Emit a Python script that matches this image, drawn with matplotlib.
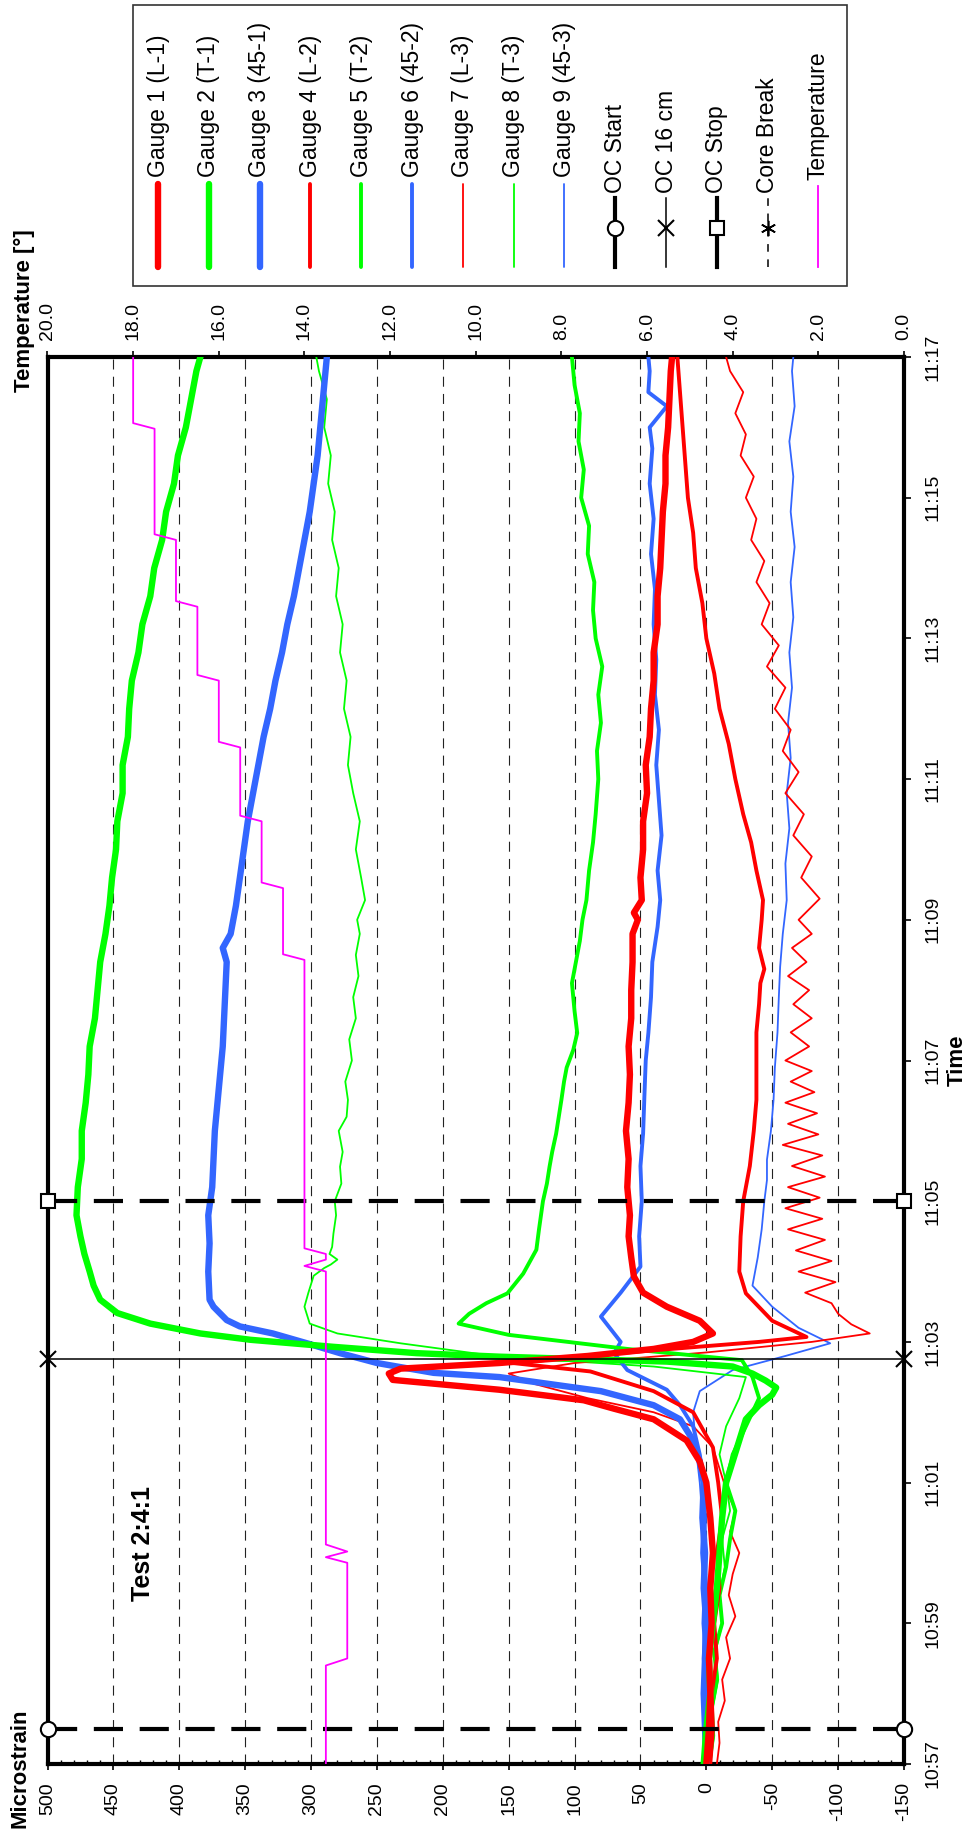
import matplotlib
matplotlib.use("Agg")
import matplotlib.pyplot as plt
from matplotlib.lines import Line2D
from matplotlib.patches import Rectangle
from matplotlib.ticker import MultipleLocator

plt.rcParams['font.family'] = ['Liberation Sans', 'DejaVu Sans']

# ---------------------------------------------------------------- data
# time is in minutes after 10:57
time_ticks = [0, 2, 4, 6, 8, 10, 12, 14, 16, 18, 20]
time_labels = ['10:57', '10:59', '11:01', '11:03', '11:05', '11:07',
               '11:09', '11:11', '11:13', '11:15', '11:17']
strain_ticks = [-150, -100, -50, 0, 50, 100, 150, 200, 250, 300, 350, 400, 450, 500]
temp_ticks = [0, 2, 4, 6, 8, 10, 12, 14, 16, 18, 20]

oc_start_t = 0.5
oc_16cm_t = 5.75
oc_stop_t = 8.0

g1_t = [0, 0.5, 1, 1.5, 2, 2.5, 3, 3.5, 4, 4.3, 4.6, 4.9, 5.05, 5.17, 5.32, 5.46, 5.55, 5.62,
        5.7, 5.8, 5.9, 6.0, 6.12, 6.3, 6.5, 6.7, 6.93, 7.2, 7.5, 7.8, 8.2, 8.6, 9.0, 9.4, 9.8,
        10.2, 10.6, 11.0, 11.4, 11.8, 12.0, 12.1, 12.28, 12.6, 13.0, 13.4, 13.8, 14.2, 14.6,
        15.0, 15.4, 15.8, 16.2, 16.6, 17.0, 17.4, 17.8, 18.2, 18.6, 19.0, 19.4, 19.8, 20]
g1_m = [0, -2, -3, -2, -4, -3, -5, -3, 0, 5, 15, 40, 70, 93, 157, 238, 241, 232,
        157, 90, 40, 10, -5, 5, 30, 48, 55, 57, 59, 58, 60, 59, 61, 59, 58,
        59, 57, 57, 56, 56, 52, 55, 49, 50, 48, 48, 45, 46, 43,
        42, 40, 40, 37, 37, 35, 34, 33, 31, 31, 29, 28, 27, 26]

g2_t = [0, 0.5, 1, 1.5, 2, 2.5, 3, 3.5, 4, 4.3, 4.6, 4.9, 5.1, 5.25, 5.35, 5.45, 5.55, 5.65,
        5.72, 5.79, 5.84, 5.93, 6.03, 6.12, 6.26, 6.41, 6.6, 6.8, 7.0, 7.25, 7.5, 7.8, 8.2,
        8.6, 9.0, 9.4, 9.8, 10.2, 10.6, 11.0, 11.4, 11.8, 12.2, 12.6, 13.0, 13.4, 13.8, 14.2,
        14.6, 15.0, 15.4, 15.8, 16.2, 16.6, 17.0, 17.4, 17.8, 18.2, 18.6, 19.0, 19.4, 19.8, 20]
g2_m = [2, 0, -3, -2, -5, -8, -10, -12, -15, -20, -25, -30, -40, -50, -53, -45, -35, -20,
        30, 157, 220, 283, 346, 384, 422, 447, 460, 465, 468, 472, 475, 478, 477,
        474, 474, 471, 469, 468, 464, 462, 460, 456, 453, 451, 448, 447, 443, 443,
        439, 438, 436, 431, 428, 422, 419, 413, 410, 404, 401, 395, 391, 387, 384]

g3_t = [0, 0.5, 1, 1.5, 2, 2.5, 3, 3.5, 4, 4.3, 4.6, 4.9, 5.1, 5.3, 5.5, 5.56, 5.7, 5.84,
        5.98, 6.12, 6.22, 6.31, 6.5, 6.6, 7.0, 7.4, 7.8, 8.2, 8.6, 9.0, 9.4, 9.8, 10.2, 10.6,
        11.0, 11.4, 11.6, 11.8, 12.2, 12.6, 13.0, 13.4, 13.8, 14.2, 14.6, 15.0, 15.4, 15.8,
        16.2, 16.6, 17.0, 17.4, 17.8, 18.2, 18.6, 19.0, 19.4, 19.8, 20]
g3_m = [0, 1, 2, 1, 0, 2, 1, 3, 2, 5, 10, 20, 40, 80, 157, 207, 250, 278,
        303, 329, 354, 364, 374, 377, 378, 377, 378, 375, 374, 373, 371, 369, 367, 366,
        365, 364, 367, 361, 357, 354, 351, 348, 344, 340, 336, 331, 327, 322,
        318, 313, 309, 305, 301, 298, 295, 293, 291, 289, 288]

g4_t = [0, 0.5, 1, 1.5, 2, 2.5, 3, 3.5, 4, 4.5, 5.0, 5.3, 5.58, 5.7, 5.85, 6.0, 6.07, 6.3,
        6.69, 7.0, 7.5, 8.0, 8.5, 9.0, 9.44, 10.0, 10.4, 10.8, 11.1, 11.3, 11.6, 12.0, 12.28,
        12.7, 13.1, 13.5, 14.0, 14.5, 15.0, 15.5, 16.0, 16.5, 17.0, 17.5, 18.0, 18.5, 19.0,
        19.5, 20]
g4_m = [-3, -5, -4, -8, -6, -10, -8, -12, -9, -5, 10, 40, 88, 147, 60, -40, -76, -50,
        -30, -25, -26, -28, -33, -36, -38, -38, -38, -40, -41, -44, -40, -42, -43,
        -38, -34, -28, -22, -17, -10, -6, 0, 3, 8, 10, 14, 16, 18,
        20, 22]

g5_t = [0, 0.4, 0.8, 1.2, 1.6, 2.0, 2.4, 2.8, 3.2, 3.6, 4.0, 4.4, 4.8, 5.2, 5.5, 5.74, 5.9,
        6.1, 6.26, 6.4, 6.55, 6.69, 6.97, 7.31, 7.6, 8.0, 8.25, 8.49, 8.7, 8.96, 9.2, 9.44,
        9.7, 9.9, 10.15, 10.39, 10.7, 11.1, 11.4, 11.7, 12.0, 12.28, 12.7, 13.1, 13.5, 14.0,
        14.4, 14.8, 15.2, 15.6, 16.0, 16.4, 16.8, 17.2, 17.6, 18.0, 18.4, 18.8, 19.2, 19.6, 20]
g5_m = [-2, -5, -4, -8, -6, -12, -10, -15, -18, -22, -15, -20, -30, -40, -35, -27, 60,
        150, 188, 180, 167, 151, 139, 129, 127, 124, 121, 119, 117, 114, 112, 110,
        108, 106, 101, 98, 100, 102, 99, 96, 94, 91, 89, 86, 84, 82,
        83, 80, 82, 79, 84, 86, 85, 90, 89, 95, 93, 97, 96, 100, 102]

g6_t = [0, 0.5, 1, 1.5, 2, 2.5, 3, 3.5, 4, 4.4, 4.8, 5.1, 5.32, 5.6, 5.84, 6.0, 6.36, 6.7,
        7.07, 7.5, 8.0, 8.5, 8.96, 9.5, 10.0, 10.39, 10.9, 11.4, 11.9, 12.28, 12.7, 13.2,
        13.7, 14.2, 14.7, 15.2, 15.7, 16.2, 16.7, 17.2, 17.7, 18.2, 18.7, 19.0, 19.3, 19.5,
        19.8, 20]
g6_m = [0, 1, 0, 2, 1, 0, 2, 1, 2, 5, 10, 20, 30, 60, 70, 65, 80, 65,
        50, 51, 49, 50, 48, 47, 46, 44, 42, 41, 37, 35, 37, 34, 36, 38,
        36, 39, 38, 40, 39, 42, 40, 43, 41, 43, 30, 44, 43, 44]

g7_t = [0, 0.3, 0.6, 0.9, 1.2, 1.5, 1.8, 2.1, 2.4, 2.7, 3.0, 3.3, 3.6, 3.9, 4.2, 4.5, 4.8,
        5.0, 5.2, 5.4, 5.55, 5.7, 5.85, 6.0, 6.12, 6.25, 6.4, 6.55, 6.7, 6.85, 7.0, 7.15, 7.3,
        7.45, 7.6, 7.75, 7.9, 8.05, 8.2, 8.35, 8.5, 8.65, 8.8, 8.95, 9.1, 9.25, 9.4, 9.55, 9.7,
        9.85, 10.0, 10.2, 10.4, 10.6, 10.8, 11.0, 11.2, 11.4, 11.6, 11.8, 12.0, 12.3, 12.6,
        12.9, 13.2, 13.5, 13.8, 14.1, 14.4, 14.7, 15.0, 15.3, 15.6, 15.9, 16.2, 16.5, 16.8,
        17.1, 17.4, 17.7, 18.0, 18.3, 18.6, 18.9, 19.2, 19.5, 19.8, 20]
g7_m = [-8, -10, -9, -14, -12, -18, -15, -22, -17, -20, -25, -18, -22, -15, -10, -5, 10,
        40, 90, 130, 150, 100, 0, -80, -124, -110, -100, -95, -75, -98, -70, -95, -68,
        -90, -62, -88, -60, -86, -62, -90, -65, -88, -58, -85, -62, -84, -60, -82, -64,
        -80, -60, -78, -64, -80, -66, -78, -62, -76, -65, -80, -70, -86, -72,
        -80, -66, -74, -60, -70, -58, -64, -52, -60, -46, -55, -42, -48, -38,
        -44, -34, -38, -30, -36, -26, -30, -22, -28, -18, -15]

g8_t = [0, 0.4, 0.8, 1.2, 1.6, 2.0, 2.4, 2.8, 3.2, 3.6, 4.0, 4.4, 4.8, 5.2, 5.5, 5.65, 5.79,
        5.98, 6.12, 6.26, 6.5, 6.7, 6.94, 7.05, 7.1, 7.17, 7.25, 7.35, 7.54, 7.8, 8.0, 8.25,
        8.49, 8.7, 9.0, 9.2, 9.44, 9.7, 10.0, 10.3, 10.6, 10.9, 11.2, 11.5, 11.8, 12.0, 12.28,
        12.6, 13.0, 13.4, 13.8, 14.2, 14.6, 15.0, 15.4, 15.8, 16.2, 16.6, 17.0, 17.4, 17.8,
        18.2, 18.6, 19.0, 19.4, 19.8, 20]
g8_m = [-3, -6, -5, -9, -7, -12, -10, -14, -12, -18, -15, -10, -15, -25, -30, 40, 157,
        232, 280, 301, 305, 302, 298, 290, 285, 280, 286, 284, 283, 281, 282, 277,
        278, 276, 279, 273, 272, 274, 269, 271, 266, 268, 264, 266, 263, 265, 259,
        262, 266, 263, 268, 272, 270, 275, 273, 278, 276, 281, 279, 284, 282,
        287, 285, 290, 288, 294, 296]

g9_t = [0, 0.5, 1, 1.5, 2, 2.5, 3, 3.5, 4, 4.5, 5.0, 5.3, 5.6, 5.8, 5.98, 6.2, 6.5, 6.8,
        7.2, 7.6, 8.0, 8.3, 8.59, 9.0, 9.44, 9.9, 10.4, 10.9, 11.33, 11.8, 12.28, 12.8, 13.3,
        13.8, 14.3, 14.8, 15.3, 15.8, 16.3, 16.8, 17.3, 17.8, 18.3, 18.8, 19.3, 19.8, 20]
g9_m = [-2, 0, 2, 1, 3, 2, 4, 3, 5, 8, 10, 5, -20, -60, -94, -70, -50, -35,
        -39, -42, -44, -46, -46, -49, -51, -52, -54, -55, -56, -58, -61, -60, -63,
        -61, -64, -62, -65, -63, -66, -64, -67, -64, -66, -63, -67, -65, -66]

temp_t = [0, 1.40, 1.50, 2.86, 2.94, 3.02, 3.12, 7.00, 7.08, 7.17, 7.25, 7.33, 11.43,
          11.51, 12.45, 12.53, 13.40, 13.48, 14.45, 14.53, 15.40, 15.48, 16.45, 16.53,
          17.40, 17.48, 18.98, 19.06, 20]
temp_c = [13.5, 13.5, 13.0, 13.0, 13.5, 13.0, 13.5, 13.5, 14.0, 13.5, 13.5, 14.0, 14.0,
          14.5, 14.5, 15.0, 15.0, 15.5, 15.5, 16.0, 16.0, 16.5, 16.5, 17.0,
          17.0, 17.5, 17.5, 18.0, 18.0]

legend_labels = ['Gauge 1 (L-1)', 'Gauge 2 (T-1)', 'Gauge 3 (45-1)', 'Gauge 4 (L-2)',
                 'Gauge 5 (T-2)', 'Gauge 6 (45-2)', 'Gauge 7 (L-3)', 'Gauge 8 (T-3)',
                 'Gauge 9 (45-3)', 'OC Start', 'OC 16 cm', 'OC Stop', 'Core Break',
                 'Temperature']

# ---------------------------------------------------------------- styles
RED, GREEN, BLUE, MAG = '#ff0000', '#00ff00', '#3366ff', '#ff00ff'
THICK, MED, THIN = 4.6, 2.8, 1.3

gauges = [
    (g1_t, g1_m, RED, THICK), (g2_t, g2_m, GREEN, THICK), (g3_t, g3_m, BLUE, THICK),
    (g4_t, g4_m, RED, MED), (g5_t, g5_m, GREEN, MED), (g6_t, g6_m, BLUE, MED),
    (g7_t, g7_m, RED, THIN), (g8_t, g8_m, GREEN, THIN), (g9_t, g9_m, BLUE, THIN),
]

W, H = 972, 1830
fig = plt.figure(figsize=(W / 100, H / 100), dpi=100)


def fx(px):
    return px / W


def fy(py):
    return 1 - py / H


L, R, T, B = 47.5, 904, 357, 1764
ax = fig.add_axes([fx(L), fy(B), (R - L) / W, (B - T) / H])
ax.set_xlim(500, -150)
ax.set_ylim(0, 20)

# dashed reference lines every 50 microstrain
for v in strain_ticks[1:-1]:
    ax.axvline(v, color='#222222', lw=0.8, ls=(0, (9, 6.5)), zorder=1)

for tt, mm, col, lw in gauges[::-1]:
    ax.plot(mm, tt, color=col, lw=lw, solid_joinstyle='round', zorder=3)

# overcoring events
ev_x = [500, -150]
ax.plot(ev_x, [oc_start_t] * 2, color='black', lw=3, dashes=(7, 4), zorder=4)
ax.plot(ev_x, [oc_stop_t] * 2, color='black', lw=3, dashes=(7, 4), zorder=4)
ax.plot(ev_x, [oc_16cm_t] * 2, color='black', lw=1.1, zorder=4)
ax.plot(ev_x, [oc_start_t] * 2, ls='none', marker='o', ms=11, mfc='white', mec='black',
        mew=1.5, clip_on=False, zorder=6)
ax.plot(ev_x, [oc_16cm_t] * 2, ls='none', marker='x', ms=11, mec='black', mew=1.5,
        clip_on=False, zorder=6)
ax.plot(ev_x, [oc_stop_t] * 2, ls='none', marker='s', ms=10, mfc='white', mec='black',
        mew=1.5, clip_on=False, zorder=6)

ax.set_xticks(strain_ticks)
ax.set_xticklabels([str(v) for v in strain_ticks], rotation=90)
ax.xaxis.set_minor_locator(MultipleLocator(10))
ax.tick_params(axis='x', which='major', direction='out', length=4, width=1.2, pad=9,
               labelsize=14)
ax.tick_params(axis='x', which='minor', direction='in', length=3, width=1)

ax.yaxis.tick_right()
ax.set_yticks(time_ticks)
ax.set_yticklabels(time_labels, rotation=90, va='center')
ax.tick_params(axis='y', which='major', direction='out', length=5, width=1.2, pad=10,
               labelsize=14)
for s in ax.spines.values():
    s.set_linewidth(3)

ax2 = ax.twiny()
ax2.set_xlim(20, 0)
ax2.set_ylim(0, 20)
ax2.plot(temp_c, temp_t, color=MAG, lw=1.3, zorder=3)
ax2.set_xticks(temp_ticks)
ax2.set_xticklabels(['%.1f' % v for v in temp_ticks], rotation=90)
ax2.tick_params(axis='x', direction='out', length=4, width=1.2, pad=8, labelsize=14)
for s in ax2.spines.values():
    s.set_visible(False)

# axis titles
fig.text(fx(20), fy(1828), 'Microstrain', rotation=90, ha='center', va='bottom',
         fontsize=16, fontweight='bold')
fig.text(fx(24), fy(392), 'Temperature [°]', rotation=90, ha='center', va='bottom',
         fontsize=16, fontweight='bold')
fig.text(fx(957), fy((T + B) / 2), 'Time', rotation=90, ha='center', va='center',
         fontsize=16, fontweight='bold')
fig.text(fx(143), fy(1601), 'Test 2:4:1', rotation=90, ha='center', va='bottom',
         fontsize=18, fontweight='bold')

# legend
fig.add_artist(Rectangle((fx(133), fy(286)), (847 - 133) / W, (286 - 5) / H, fill=False,
                         lw=1.2, ec='#333333', transform=fig.transFigure))
handle_styles = [(g[2], g[3]) for g in gauges]
for i, lab in enumerate(legend_labels):
    x = 158 + i * 50.8
    if i < 9:
        col, lw = handle_styles[i]
        fig.add_artist(Line2D([fx(x), fx(x)], [fy(267), fy(184)], color=col, lw=lw,
                              solid_capstyle='round', transform=fig.transFigure))
        ty = 177
    elif lab == 'Temperature':
        fig.add_artist(Line2D([fx(x), fx(x)], [fy(267), fy(186)], color=MAG, lw=1.3,
                              transform=fig.transFigure))
        ty = 180
    else:
        if lab == 'OC Start':
            kw = dict(color='black', lw=3, marker='o', ms=11, mfc='white', mec='black', mew=1.5)
        elif lab == 'OC 16 cm':
            kw = dict(color='black', lw=1.1, marker='x', ms=11, mec='black', mew=1.5)
        elif lab == 'OC Stop':
            kw = dict(color='black', lw=3, marker='s', ms=10, mfc='white', mec='black', mew=1.5)
        else:
            kw = dict(color='black', lw=1.1, ls=(0, (5, 5)), marker=(6, 2, 0), ms=11,
                      mec='black', mew=1.2)
        fig.add_artist(Line2D([fx(x), fx(x), fx(x)], [fy(267), fy(228), fy(198)],
                              markevery=[1], transform=fig.transFigure, **kw))
        ty = 193
    fig.text(fx(x), fy(ty), lab, rotation=90, ha='center', va='bottom', fontsize=16.5)

fig.savefig('out.png', dpi=100)
